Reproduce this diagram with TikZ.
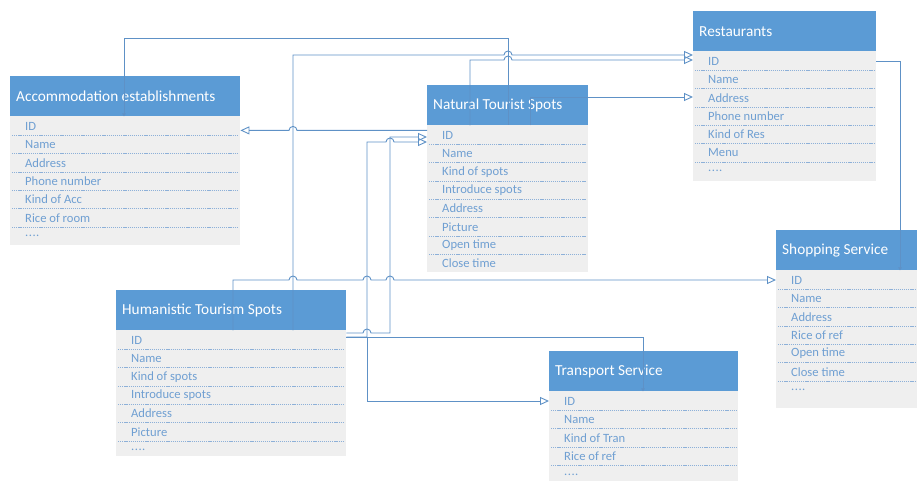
\documentclass[tikz,border=0pt]{standalone}
\usepackage{fontspec}
\setmainfont{Carlito}
\usetikzlibrary{arrows.meta}
\definecolor{headblue}{HTML}{5B9BD5}
\definecolor{bodygray}{HTML}{EFEFEF}
\definecolor{rowblue}{HTML}{6F9FD2}
\definecolor{linkblue}{HTML}{5E91C6}
\definecolor{sepblue}{HTML}{8DB0D8}
\tikzset{
entityhead/.style={fill=headblue, anchor=north west, minimum height=40pt, inner sep=0pt},
entitytitle/.style={anchor=west, inner sep=0pt, text=white,
    font=\fontsize{15.3}{18}\selectfont},
rowtext/.style={anchor=west, inner sep=0pt, text=rowblue,
    font=\fontsize{12.6}{15}\selectfont},
rowsep/.style={draw=sepblue, line width=0.8pt, dash pattern=on 1.2pt off 0.9pt},
link/.style={draw=linkblue, line width=0.9pt},
stub/.tip={Triangle[length=3pt, width=3.5pt]}
}
\newcommand{\more}{.\kern0.5pt.\kern0.5pt.\kern0.5pt.}
% name, x, y, width, body height, title, rows
\newcommand{\tablebox}[7]{%
  \node[entityhead, minimum width=#4pt] (#1) at (#2,#3) {};
  \node[entitytitle] (#1-title) at ([xshift=6pt]#1.west) {#6};
  \fill[bodygray] (#1.south west) rectangle ([yshift=-#5pt]#1.south east);
  \foreach \r [count=\i] in {#7} {
    \node[rowtext] (#1-\i) at ([xshift=15pt, yshift={-10pt-(\i-1)*18.3pt}]#1.south west) {\r};
    \ifnum\i>1
      \draw[rowsep] ([xshift=2pt, yshift={-0.85pt-(\i-1)*18.3pt}]#1.south west)
        -- ([xshift=-2pt, yshift={-0.85pt-(\i-1)*18.3pt}]#1.south east);
    \fi
  }%
}

\begin{document}
\begin{tikzpicture}[x=1pt, y=-1pt, >={Triangle[open, length=9pt, width=8pt]}]
\useasboundingbox (0,0) rectangle (917,481);

\tablebox{acc}{10}{76}{230}{129}{Accommodation establishments}{ID,Name,Address,Phone number,Kind of Acc,Rice of room,\more}
\tablebox{nat}{427}{85}{161}{147}{Natural Tourist Spots}{ID,Name,Kind of spots,Introduce spots,Address,Picture,Open time,Close time}
\tablebox{res}{693}{11}{183}{130}{Restaurants}{ID,Name,Address,Phone number,Kind of Res,Menu,\more}
\tablebox{shop}{776}{230}{141}{138}{Shopping Service}{ID,Name,Address,Rice of ref,Open time,Close time,\more}
\tablebox{hum}{116}{290}{230}{126}{Humanistic Tourism Spots}{ID,Name,Kind of spots,Introduce spots,Address,Picture,\more}
\tablebox{tra}{549}{351}{189}{90}{Transport Service}{ID,Name,Kind of Tran,Rice of ref,\more}

% bends of the connectors
\coordinate (accup) at (124,38);
\coordinate (natup) at (508,38);
\coordinate (natres) at (470,60);
\coordinate (humup) at (293,55);
\coordinate (natadr) at (530,97);
\coordinate (natacc) at ([yshift=-5pt]nat.south west);
\coordinate (humnat1) at (390,333);
\coordinate (natid1) at (390,137);
\coordinate (humnat2) at (367,337);
\coordinate (natid2) at (367,142);
\coordinate (humtra) at (367,401);
\coordinate (trahum) at (643,337);
\coordinate (humshop) at (233,280);
\coordinate (resshop) at (900,61);

\draw[link, stub-] (acc.south -| accup) -- (accup) -- (natup) -- (nat.south -| natup);
\draw[link, ->] (nat.south -| natres) -- (natres)
  -- ([xshift=-4pt]natres -| natup) arc[start angle=180, end angle=0, radius=4pt]
  -- (res.west |- natres);
\draw[link, ->] (hum.south -| humup) -- (humup)
  -- ([xshift=-4pt]humup -| natup) arc[start angle=180, end angle=0, radius=4pt]
  -- (res.west |- humup);
\draw[link, ->] (nat.south -| natadr) -- (natadr) -- (res.west |- natadr);
\draw[link, ->] (natacc)
  -- ([xshift=4pt]natacc -| humup) arc[start angle=0, end angle=180, radius=4pt]
  -- (natacc -| acc.east);
\draw[link, ->] (hum.east |- humnat1)
  -- ([xshift=-4pt]humnat1 -| humnat2) arc[start angle=180, end angle=0, radius=4pt]
  -- (humnat1) -- (natid1) -- (nat.west |- natid1);
\draw[link, ->] (hum.east |- humnat2) -- (humnat2) -- (natid2)
  -- ([xshift=-4pt]natid2 -| natid1) arc[start angle=180, end angle=0, radius=4pt]
  -- (nat.west |- natid2);
\draw[link, ->] (humnat2) -- (humtra) -- (tra.west |- humtra);
\draw[link, stub-] (tra.south -| trahum) -- (trahum) -- (hum.east |- trahum);
\draw[link, ->] (hum.south -| humshop) -- (humshop)
  -- ([xshift=-4pt]humshop -| humup) arc[start angle=180, end angle=0, radius=4pt]
  -- ([xshift=-4pt]humshop -| humnat2) arc[start angle=180, end angle=0, radius=4pt]
  -- ([xshift=-4pt]humshop -| natid1) arc[start angle=180, end angle=0, radius=4pt]
  -- (shop.west |- humshop);
\draw[link, -stub] (res.east |- resshop) -- (resshop) -- (shop.south -| resshop);
\end{tikzpicture}
\end{document}
